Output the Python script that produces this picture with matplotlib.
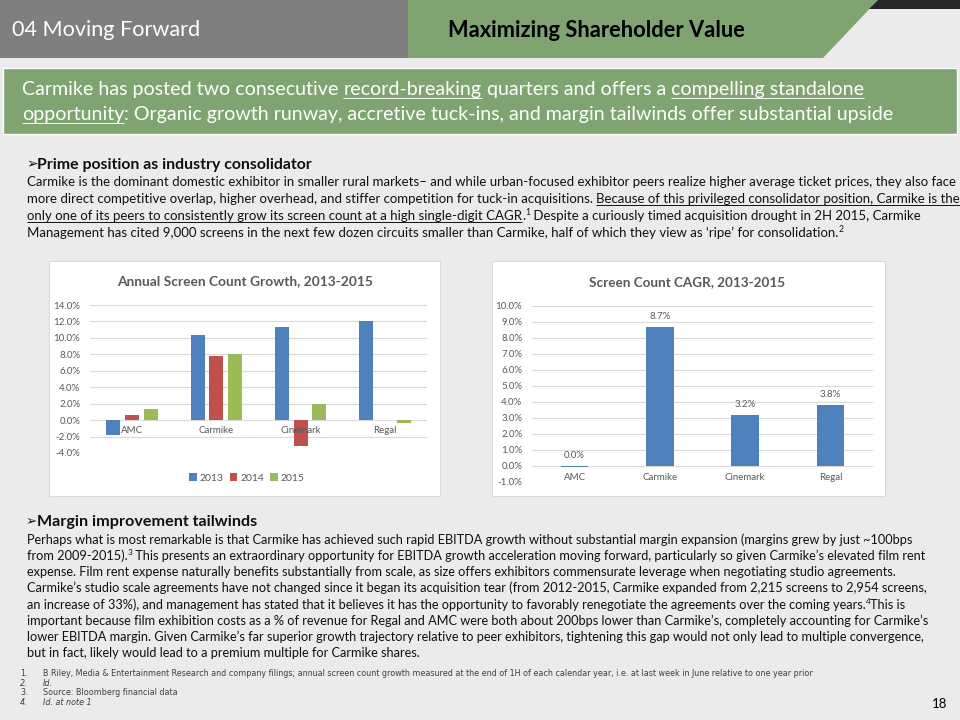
"""
Slide 18 - Moving Forward / Maximizing Shareholder Value
Two bar charts (annual screen count growth, screen count CAGR) with text.
"""

import numpy as np
import matplotlib
matplotlib.use('Agg')
import matplotlib.pyplot as plt
from matplotlib.patches import Rectangle, Polygon
from matplotlib.font_manager import FontProperties
from matplotlib.ticker import FuncFormatter

W, H = 960, 720

COLORS = {
    'bg': '#ebebeb',
    'header_gray': '#7f7f7f',
    'green': '#7fa371',
    'dark': '#262626',
    'text': '#111111',
    'chart_text': '#595959',
    'grid': '#d9d9d9',
    'note': '#404040',
}
BAR_COLORS = ['#4f81bd', '#c0504d', '#9bbb59']

# chart data (percent)
companies = ['AMC', 'Carmike', 'Cinemark', 'Regal']
years = ['2013', '2014', '2015']
growth_2013 = [-1.8, 10.3, 11.3, 12.0]
growth_2014 = [0.6, 7.8, -3.2, 0.0]
growth_2015 = [1.3, 8.0, 2.0, -0.3]
cagr = [-0.05, 8.7, 3.2, 3.8]
cagr_labels = ['0.0%', '8.7%', '3.2%', '3.8%']

NARROW = ['Lato', 'DejaVu Sans']
plt.rcParams['font.family'] = ['Lato', 'DejaVu Sans']

fig = plt.figure(figsize=(9.6, 7.2), dpi=100)
fig.patch.set_facecolor(COLORS['bg'])
renderer = fig.canvas.get_renderer()

# background axes in pixel coordinates (y down)
bg = fig.add_axes([0, 0, 1, 1])
bg.set_xlim(0, W)
bg.set_ylim(H, 0)
bg.set_autoscale_on(False)
bg.axis('off')


def text_w(s, size, family=NARROW, weight='normal', style='normal'):
    prop = FontProperties(family=family, size=size, weight=weight, style=style)
    w, _, _ = renderer.get_text_width_height_descent(s + '|', prop, ismath=False)
    w0, _, _ = renderer.get_text_width_height_descent('|', prop, ismath=False)
    return w - w0


def fit(s, width, **kw):
    return 10 * width / text_w(s, 10, **kw)


def draw_runs(x, y, runs, size, color, family=NARROW, weight='normal'):
    """Draw a line made of runs: n normal, u underline, s superscript,
    b bold, i italic, bullet."""
    em = size * 100 / 72
    base = y + 0.3 * em
    for s, kind in runs:
        sz = size * 0.65 if kind == 's' else size
        yy = base - 0.38 * em if kind == 's' else base
        st = 'italic' if kind == 'i' else 'normal'
        wt = 'bold' if kind == 'b' else weight
        fam = ['DejaVu Sans'] if kind == 'bullet' else family
        bg.text(x, yy, s, fontsize=sz, color=color, family=fam, weight=wt,
                style=st, va='baseline', ha='left')
        if kind == 'u':
            uw = text_w(s.rstrip(), sz, fam, wt, st)
            bg.plot([x, x + uw], [base + 0.14 * em] * 2, color=color,
                    lw=0.7, solid_capstyle='butt')
        x += text_w(s, sz, fam, wt, st)


def heading(y, title, width, size):
    hs = fit(title, width, weight='bold')
    draw_runs(26, y, [('\u27a2', 'bullet')], size * 1.05, COLORS['text'])
    draw_runs(37, y, [(title, 'b')], hs, COLORS['text'])


# ---- header ----
bg.add_patch(Rectangle((0, 0), 408, 58, fc=COLORS['header_gray'], ec='none'))
bg.add_patch(Polygon([(408, 0), (878, 0), (823, 58), (408, 58)],
                     fc=COLORS['green'], ec='none'))
bg.add_patch(Polygon([(878, 0), (960, 0), (960, 9), (869, 9)],
                     fc=COLORS['dark'], ec='none'))

s = fit('04 Moving Forward', 188)
draw_runs(12, 30, [('04 Moving Forward', 'n')], s, 'white')
s = fit('Maximizing Shareholder Value', 297, weight='bold')
draw_runs(448, 30, [('Maximizing Shareholder Value', 'n')], s, 'black',
          weight='bold')

# ---- subtitle box ----
bg.add_patch(Rectangle((3, 68), 954, 66, fc=COLORS['green'], ec='white', lw=1))
sub1 = [('Carmike has posted two consecutive ', 'n'), ('record-breaking', 'u'),
        (' quarters and offers a ', 'n'), ('compelling standalone', 'u')]
sub2 = [('opportunity', 'u'),
        (': Organic growth runway, accretive tuck-ins, and margin tailwinds '
         'offer substantial upside', 'n')]
s = fit(''.join(t for t, _ in sub2), 872)
draw_runs(22, 89, sub1, s, 'white')
draw_runs(22, 114, sub2, s, 'white')

# ---- paragraph 1 ----
p1 = [
    [('Carmike is the dominant domestic exhibitor in smaller rural markets\u2013 '
      'and while urban-focused exhibitor peers realize higher average ticket '
      'prices, they also face', 'n')],
    [('more direct competitive overlap, higher overhead, and stiffer competition '
      'for tuck-in acquisitions. ', 'n'),
     ('Because of this privileged consolidator position, Carmike is the', 'u')],
    [('only one of its peers to consistently grow its screen count at a high '
      'single-digit CAGR', 'u'), ('.', 'n'), ('1', 's'),
     (' Despite a curiously timed acquisition drought in 2H 2015, Carmike', 'n')],
    [('Management has cited 9,000 screens in the next few dozen circuits smaller '
      'than Carmike, half of which they view as \u2018ripe\u2019 for '
      'consolidation.', 'n'), ('2', 's')],
]
s1 = fit(p1[0][0][0], 928)
heading(164, 'Prime position as industry consolidator', 276, s1)
for i, line in enumerate(p1):
    draw_runs(27, 182 + 17 * i, line, s1, COLORS['text'])

# ---- paragraph 2 ----
p2 = [
    [('Perhaps what is most remarkable is that Carmike has achieved such rapid '
      'EBITDA growth without substantial margin expansion (margins grew by just '
      '~100bps', 'n')],
    [('from 2009-2015).', 'n'), ('3', 's'),
     (' This presents an extraordinary opportunity for EBITDA growth acceleration '
      'moving forward, particularly so given Carmike\u2019s elevated film rent',
      'n')],
    [('expense. Film rent expense naturally benefits substantially from scale, as '
      'size offers exhibitors commensurate leverage when negotiating studio '
      'agreements.', 'n')],
    [('Carmike\u2019s studio scale agreements have not changed since it began its '
      'acquisition tear (from 2012-2015, Carmike expanded from 2,215 screens to '
      '2,954 screens,', 'n')],
    [('an increase of 33%), and management has stated that it believes it has the '
      'opportunity to favorably renegotiate the agreements over the coming years.',
      'n'), ('4', 's'), ('This is', 'n')],
    [('important because film exhibition costs as a % of revenue for Regal and AMC '
      'were both about 200bps lower than Carmike\u2019s, completely accounting for '
      'Carmike\u2019s', 'n')],
    [('lower EBITDA margin. Given Carmike\u2019s far superior growth trajectory '
      'relative to peer exhibitors, tightening this gap would not only lead to '
      'multiple convergence,', 'n')],
    [('but in fact, likely would lead to a premium multiple for Carmike shares.',
      'n')],
]
s2 = fit(p2[3][0][0], 905)
heading(521, 'Margin improvement tailwinds', 220, s2)
for i, line in enumerate(p2):
    draw_runs(27, 540 + 16.2 * i, line, s2, COLORS['text'])

# ---- footnotes ----
notes = [
    ('1.', 'n', 'B Riley, Media & Entertainment Research and company filings; annual '
     'screen count growth measured at the end of 1H of each calendar year, i.e. at '
     'last week in June relative to one year prior'),
    ('2.', 'i', 'Id.'),
    ('3.', 'n', 'Source: Bloomberg financial data'),
    ('4.', 'i', 'Id. at note 1'),
]
sn = fit(notes[0][2], 770, family=['DejaVu Sans'])
for i, (num, kind, txt) in enumerate(notes):
    y = 674 + 9.5 * i
    draw_runs(20, y, [(num, kind)], sn, COLORS['note'], family=['DejaVu Sans'])
    draw_runs(43, y, [(txt, kind)], sn, COLORS['note'], family=['DejaVu Sans'])
draw_runs(932, 704, [('18', 'n')], 9.5, 'black')

# ---- chart boxes ----
bg.add_patch(Rectangle((49, 261), 391, 235, fc='white', ec=COLORS['grid'], lw=0.75))
bg.add_patch(Rectangle((492, 261), 393, 235, fc='white', ec=COLORS['grid'], lw=0.75))

pct = FuncFormatter(lambda v, _: f'{v:.1f}%')
LAB = 7


def style_axes(ax):
    for sp in ax.spines.values():
        sp.set_visible(False)
    ax.set_facecolor('none')
    ax.grid(axis='y', color=COLORS['grid'], lw=0.8)
    ax.set_axisbelow(True)
    ax.set_xticks([])
    ax.yaxis.set_major_formatter(pct)
    ax.tick_params(axis='y', length=0, pad=7, labelsize=LAB,
                   labelcolor=COLORS['chart_text'])
    ax.set_xlim(-0.5, len(companies) - 0.5)


# left chart: annual growth
ax1 = fig.add_axes([90 / W, 1 - 453 / H, (427 - 90) / W, (453 - 305) / H])
style_axes(ax1)
x = np.arange(len(companies))
series = [growth_2013, growth_2014, growth_2015]
for k, (yr, vals) in enumerate(zip(years, series)):
    ax1.bar(x + (k - 1) * 0.222, vals, width=0.167, color=BAR_COLORS[k],
            label=yr, zorder=2)
ax1.set_ylim(-4, 14)
ax1.set_yticks(np.arange(-4, 15, 2))
for i, name in enumerate(companies):
    ax1.annotate(name, (i, 0), xytext=(0, -4.5), textcoords='offset points',
                 ha='center', va='top', fontsize=LAB, color=COLORS['chart_text'],
                 zorder=3)
ax1.legend(ncol=3, loc='center', bbox_to_anchor=(247 / W, 1 - 478 / H),
           bbox_transform=fig.transFigure, frameon=False, fontsize=7.5,
           handlelength=0.7, handleheight=0.7, handletextpad=0.3,
           columnspacing=0.6, labelcolor=COLORS['chart_text'])
t1 = 'Annual Screen Count Growth, 2013-2015'
bg.text(245, 281, t1, ha='center', va='center', weight='bold',
        fontsize=fit(t1, 256, weight='bold'), color=COLORS['chart_text'])

# right chart: CAGR
ax2 = fig.add_axes([532 / W, 1 - 481.7 / H, (873 - 532) / W, (481.7 - 305.7) / H])
style_axes(ax2)
ax2.bar(x, cagr, width=0.32, color=BAR_COLORS[0], zorder=2)
ax2.set_ylim(-1, 10)
ax2.set_yticks(np.arange(-1, 10.5, 1))
for i, (v, lab) in enumerate(zip(cagr, cagr_labels)):
    ax2.annotate(lab, (i, max(v, 0)), xytext=(0, 4), textcoords='offset points',
                 ha='center', va='bottom', fontsize=LAB,
                 color=COLORS['chart_text'])
    ax2.annotate(companies[i], (i, 0), xytext=(0, -5), textcoords='offset points',
                 ha='center', va='top', fontsize=LAB, color=COLORS['chart_text'])
t2 = 'Screen Count CAGR, 2013-2015'
bg.text(687, 282, t2, ha='center', va='center', weight='bold',
        fontsize=fit(t2, 195, weight='bold'), color=COLORS['chart_text'])

fig.savefig('out.png', dpi=100, facecolor=fig.get_facecolor())
